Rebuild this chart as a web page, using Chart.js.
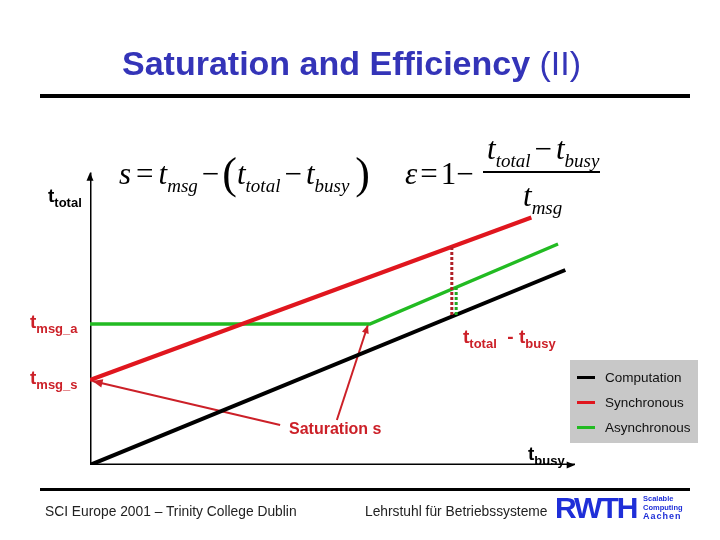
<!DOCTYPE html>
<html>
<head>
<meta charset="utf-8">
<script src="https://cdn.jsdelivr.net/npm/chart.js@4/dist/chart.umd.min.js"></script>
<style>
  body { margin: 0; background: #fff; }
  #wrap { position: relative; width: 720px; height: 540px; overflow: hidden; font-family: Arial, "Liberation Sans", sans-serif; }
  canvas { position: absolute; left: 0; top: 0; }
  .abs { position: absolute; white-space: nowrap; line-height: 1; }
  .rule { position: absolute; background: #000; }
  .lbl { font-size: 19px; font-weight: bold; }
  .lbl sub { font-size: 13px; vertical-align: -5px; }
  .red { color: #cc2028; }
  .math { font-family: "Liberation Serif", "DejaVu Serif", serif; font-style: italic; font-size: 31px; }
  .math sub { font-size: 19px; vertical-align: -8px; }
  .up { font-style: normal; }
  #legend { position: absolute; left: 570px; top: 360px; width: 128px; height: 83px; background: #c8c8c8; }
  #legend div { position: absolute; left: 35px; font-size: 13.5px; color: #111; }
  #legend span { position: absolute; left: 7px; width: 18px; height: 3px; }
</style>
</head>
<body>
<div id="wrap">
  <canvas id="chart" width="720" height="540"></canvas>

  <div class="abs" style="left:122px;top:46px;font-size:34px;color:#3434b8;font-weight:bold;">Saturation and Efficiency <span style="font-weight:normal">(II)</span></div>
  <div class="rule" style="left:40px;top:94px;width:650px;height:4px;"></div>

  <div class="abs math" style="left:119px;top:152px;">s<span class="up" style="margin:0 5px;">=</span>t<sub>msg</sub><span class="up" style="margin:0 3px 0 4px;">&minus;</span><span class="up" style="font-size:44px;vertical-align:-4px;">(</span>t<sub>total</sub><span class="up" style="margin:0 4px;">&minus;</span>t<sub>busy</sub><span class="up" style="font-size:44px;vertical-align:-4px;margin-left:6px;">)</span></div>
  <div class="abs math" style="left:405px;top:158px;">&epsilon;<span class="up" style="margin:0 3px;">=</span><span class="up">1&minus;</span></div>
  <div class="abs math" style="left:487px;top:133px;">t<sub>total</sub><span class="up" style="margin:0 4px;">&minus;</span>t<sub>busy</sub></div>
  <div class="rule" style="left:483px;top:171px;width:117px;height:2px;"></div>
  <div class="abs math" style="left:523px;top:180px;">t<sub>msg</sub></div>

  <div class="abs lbl" style="left:48px;top:186px;">t<sub>total</sub></div>
  <div class="abs lbl red" style="left:30px;top:312px;">t<sub>msg_a</sub></div>
  <div class="abs lbl red" style="left:30px;top:368px;">t<sub>msg_s</sub></div>
  <div class="abs lbl red" style="left:463px;top:327px;">t<sub>total</sub>&nbsp; - t<sub>busy</sub></div>
  <div class="abs red" style="left:289px;top:421px;font-size:16px;font-weight:bold;">Saturation s</div>
  <div class="abs lbl" style="left:528px;top:444px;">t<sub>busy</sub></div>

  <div id="legend">
    <span style="top:16px;background:#000;"></span><div style="top:10px;">Computation</div>
    <span style="top:41px;background:#e0161e;"></span><div style="top:35px;">Synchronous</div>
    <span style="top:66px;background:#22bb22;"></span><div style="top:60px;">Asynchronous</div>
  </div>

  <div class="rule" style="left:40px;top:488px;width:650px;height:3px;"></div>
  <div class="abs" style="left:45px;top:505px;font-size:13.8px;color:#222;">SCI Europe 2001 &ndash; Trinity College Dublin</div>
  <div class="abs" style="left:365px;top:505px;font-size:13.8px;color:#222;">Lehrstuhl f&uuml;r Betriebssysteme</div>
  <div class="abs" style="left:555px;top:493px;font-size:30px;font-weight:900;color:#1f2fd8;letter-spacing:-2px;">RWTH</div>
  <div class="abs" style="left:643px;top:495px;font-size:7.5px;font-weight:bold;color:#1f2fd8;line-height:8.5px;">Scalable<br>Computing<br><span style="font-size:9px;letter-spacing:1px;">Aachen</span></div>
</div>

<script>
// data in chart units: x 0..10, y 0..6
const computation = [{x: 0, y: 0}, {x: 9.8, y: 3.9}];
const synchronous = [{x: 0, y: 1.7}, {x: 9.1, y: 4.95}];
const asynchronous = [{x: 0, y: 2.82}, {x: 5.77, y: 2.82}, {x: 9.65, y: 4.42}];
const gapSync = [{x: 7.46, y: 4.36}, {x: 7.46, y: 2.96}];
const gapAsync = [{x: 7.55, y: 3.56}, {x: 7.55, y: 2.96}];
const pointerSync = [{x: 3.92, y: 0.8}, {x: 0.05, y: 1.68}];
const pointerAsync = [{x: 5.09, y: 0.9}, {x: 5.73, y: 2.8}];
const axisX = [{x: 0, y: 0}, {x: 10, y: 0}];
const axisY = [{x: 0, y: 0}, {x: 0, y: 5.85}];

const line = (data, color, width, dash) => ({
    data, borderColor: color, borderWidth: width, borderDash: dash || [],
    showLine: true, pointRadius: 0, fill: false, tension: 0
});

// arrowheads at the end of a few datasets
const arrowPlugin = {
    id: 'arrows',
    afterDatasetsDraw(chart) {
        const ctx = chart.ctx;
        const xs = chart.scales.x, ys = chart.scales.y;
        const heads = [[axisX, '#000', 9], [axisY, '#000', 9], [pointerSync, '#cc2028', 11], [pointerAsync, '#cc2028', 9]];
        heads.forEach(([pts, color, size]) => {
            const a = pts[pts.length - 2], b = pts[pts.length - 1];
            const x1 = xs.getPixelForValue(a.x), y1 = ys.getPixelForValue(a.y);
            const x2 = xs.getPixelForValue(b.x), y2 = ys.getPixelForValue(b.y);
            const ang = Math.atan2(y2 - y1, x2 - x1);
            ctx.save();
            ctx.fillStyle = color;
            ctx.beginPath();
            ctx.moveTo(x2, y2);
            ctx.lineTo(x2 - size * Math.cos(ang - 0.4), y2 - size * Math.sin(ang - 0.4));
            ctx.lineTo(x2 - size * Math.cos(ang + 0.4), y2 - size * Math.sin(ang + 0.4));
            ctx.closePath();
            ctx.fill();
            ctx.restore();
        });
    }
};

new Chart(document.getElementById('chart'), {
    type: 'scatter',
    data: {
        datasets: [
            line(gapSync, '#b02028', 3, [3, 2]),
            line(gapAsync, '#22aa22', 3, [3, 2]),
            line(computation, '#000', 4),
            line(synchronous, '#e0161e', 4),
            line(asynchronous, '#22bb22', 3.5),
            line(pointerSync, '#cc2028', 2),
            line(pointerAsync, '#cc2028', 2),
            line(axisX, '#000', 3),
            line(axisY, '#000', 3)
        ]
    },
    options: {
        responsive: false,
        animation: false,
        layout: { padding: { left: 90, right: 145, top: 165, bottom: 75 } },
        scales: {
            x: { type: 'linear', min: 0, max: 10, display: false },
            y: { type: 'linear', min: 0, max: 6, display: false }
        },
        plugins: { legend: { display: false }, tooltip: { enabled: false } }
    },
    plugins: [arrowPlugin]
});
</script>
</body>
</html>
